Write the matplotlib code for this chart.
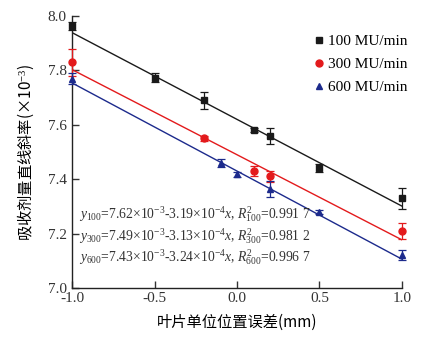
import matplotlib
matplotlib.use("Agg")
import matplotlib.pyplot as plt
from matplotlib.lines import Line2D
import numpy as np

# data
x100 = [-1.0, -0.5, -0.2, 0.1, 0.2, 0.5, 1.0]
y100 = [7.963, 7.774, 7.69, 7.58, 7.558, 7.44, 7.33]
e100 = [0.015, 0.015, 0.03, 0.008, 0.03, 0.015, 0.038]

x300 = [-1.0, -0.2, 0.1, 0.2, 1.0]
y300 = [7.83, 7.55, 7.43, 7.41, 7.21]
e300 = [0.05, 0.008, 0.02, 0.022, 0.03]

x600 = [-1.0, -0.1, 0.0, 0.2, 0.5, 1.0]
y600 = [7.77, 7.46, 7.418, 7.365, 7.28, 7.12]
e600 = [0.02, 0.015, 0.01, 0.03, 0.008, 0.018]

# fitted lines (intercept, slope) in units of 1e-3
fit100 = (7.62, -0.319)
fit300 = (7.49, -0.313)
fit600 = (7.43, -0.324)

labels = ["100 MU/min", "300 MU/min", "600 MU/min"]
eq_texts = [
    r"$y_{100}$=7.62×10$^{-3}$-3.19×10$^{-4}$$x$, $R^2_{100}$=0.991 7",
    r"$y_{300}$=7.49×10$^{-3}$-3.13×10$^{-4}$$x$, $R^2_{300}$=0.981 2",
    r"$y_{600}$=7.43×10$^{-3}$-3.24×10$^{-4}$$x$, $R^2_{600}$=0.996 7",
]

plt.rcParams["font.family"] = ["Liberation Serif", "Noto Sans CJK SC"]
plt.rcParams["mathtext.fontset"] = "custom"
plt.rcParams["mathtext.rm"] = "Liberation Serif"
plt.rcParams["mathtext.it"] = "Liberation Serif:italic"

fig = plt.figure(figsize=(4.29, 3.37), dpi=100)
ax = fig.add_axes([0.168, 0.1454, 0.769, 0.807])

colors = ["#1a1a1a", "#e31a1c", "#1c2a8c"]
markers = ["s", "o", "^"]
series = [(x100, y100, e100, fit100), (x300, y300, e300, fit300), (x600, y600, e600, fit600)]

xl = np.array([-1.0, 1.0])
handles = []
for (xs, ys, es, fit), c, m, lab in zip(series, colors, markers, labels):
    ax.plot(xl, fit[0] + fit[1] * xl, color=c, lw=1.0, zorder=2)
    ax.errorbar(xs, ys, yerr=es, fmt=m, color=c, ms=5, capsize=3, elinewidth=0.9,
                capthick=0.9, zorder=3, clip_on=False)
    handles.append(Line2D([], [], ls="none", marker=m, color=c, ms=5, label=lab))

ax.set_xlim(-1.0, 1.0)
ax.set_ylim(7.0, 8.0)
ax.set_xticks([-1.0, -0.5, 0.0, 0.5, 1.0])
ax.set_yticks([7.0, 7.2, 7.4, 7.6, 7.8, 8.0])
ax.xaxis.set_major_formatter(matplotlib.ticker.FormatStrFormatter("%.1f"))
ax.yaxis.set_major_formatter(matplotlib.ticker.FormatStrFormatter("%.1f"))
ax.tick_params(direction="in", length=5, width=1, labelsize=11, colors="#333333")
ax.tick_params(axis="x", pad=3)
ax.tick_params(axis="y", pad=4)
ax.spines["top"].set_visible(False)
ax.spines["right"].set_visible(False)
for s in ["left", "bottom"]:
    ax.spines[s].set_linewidth(1.0)
    ax.spines[s].set_color("#222222")

ax.set_xlabel("叶片单位位置误差(mm)", fontsize=11, family=["Noto Sans CJK SC"], labelpad=6)
ax.set_ylabel("吸收剂量直线斜率(×10$^{-3}$)", fontsize=11, family=["Noto Sans CJK SC"], labelpad=8)

ax.legend(handles=handles, loc="upper right", bbox_to_anchor=(1.045, 0.965), frameon=False, fontsize=11,
          handletextpad=0.1, handlelength=1.0, labelspacing=0.6, borderaxespad=0.2)

for i, t in enumerate(eq_texts):
    ax.text(0.02, 0.255 - i * 0.079, t, transform=ax.transAxes, fontsize=9.8, color="#333333")

fig.savefig("out.png", dpi=100)
